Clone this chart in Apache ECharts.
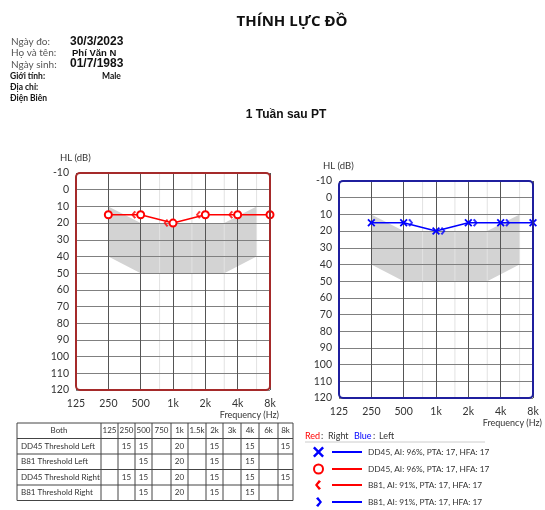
<!DOCTYPE html>
<html><head><meta charset="utf-8">
<script src="https://cdn.jsdelivr.net/npm/echarts@6/dist/echarts.min.js"></script>
<style>html,body{margin:0;padding:0;background:#fff}#c{width:545px;height:510px}</style>
</head><body><div id="c"></div>
<script>
// ---- data ----
const freqTickValues = [125, 250, 500, 1000, 2000, 4000, 8000];
const freqTickLabels = ['125', '250', '500', '1k', '2k', '4k', '8k'];
const minorFreqs = [750, 1500, 3000, 6000];
const normalFreqs = [250, 500, 3000, 6000];
const normalTop = [10, 20, 20, 10];
const normalBottom = [40, 50, 50, 40];
// Right ear (red) - DD45 "O" and B81 "<"
const rightDD45Freq = [250, 500, 1000, 2000, 4000, 8000];
const rightDD45Db = [15, 15, 20, 15, 15, 15];
const rightB81Freq = [500, 1000, 2000, 4000];
const rightB81Db = [15, 20, 15, 15];
// Left ear (blue) - DD45 "X" and B81 ">"
const leftDD45Freq = [250, 500, 1000, 2000, 4000, 8000];
const leftDD45Db = [15, 15, 20, 15, 15, 15];
const leftB81Freq = [500, 1000, 2000, 4000];
const leftB81Db = [15, 20, 15, 15];
// table
const tableHeader = ['Both', '125', '250', '500', '750', '1k', '1.5k', '2k', '3k', '4k', '6k', '8k'];
const tableRowNames = ['DD45 Threshold Left', 'B81 Threshold Left', 'DD45 Threshold Right', 'B81 Threshold Right'];
const tableRow1 = ['', '15', '15', '', '20', '', '15', '', '15', '', '15'];
const tableRow2 = ['', '', '15', '', '20', '', '15', '', '15', '', ''];
const tableRow3 = ['', '15', '15', '', '20', '', '15', '', '15', '', '15'];
const tableRow4 = ['', '', '15', '', '20', '', '15', '', '15', '', ''];
// legend
const legendTexts = ['DD45, AI: 96%, PTA: 17, HFA: 17', 'DD45, AI: 96%, PTA: 17, HFA: 17', 'B81, AI: 91%, PTA: 17, HFA: 17', 'B81, AI: 91%, PTA: 17, HFA: 17'];
// header
const headerLabels = ['Ngày đo:', 'Họ và tên:', 'Ngày sinh:'];
const headerValues = ['30/3/2023', 'Phí Văn N', '01/7/1983'];

// ---- helpers ----
const oct = f => Math.log2(f / 125);
const pair = (fs, ds) => fs.map((f, i) => [oct(f), ds[i]]);
const RED = '#ff0000', BLUE = '#0000ff';
const FONT = 'Lato';
const PTS_X = [[2.5,0],[8,5.5],[13.5,0],[16,2.5],[10.5,8],[16,13.5],[13.5,16],[8,10.5],[2.5,16],[0,13.5],[5.5,8],[0,2.5]];
const PTS_LT = [[6.5,0],[10,2.5],[4.5,8],[10,13.5],[6.5,16],[0,8]];
const PTS_GT = [[3.5,0],[10,8],[3.5,16],[0,13.5],[5.5,8],[0,2.5]];
const toPath = pts => 'path://M' + pts.map(p => p[0] + ',' + p[1]).join(' L') + ' Z';
const place = (pts, x, y, w, h) => {
  const mx = Math.max(...pts.map(p => p[0])), my = Math.max(...pts.map(p => p[1]));
  return pts.map(p => [x + p[0] / mx * w, y + p[1] / my * h]);
};

const grids = [
  {left: 76, top: 173, width: 194, height: 217, border: '#a52a2a'},
  {left: 339, top: 181, width: 194, height: 217, border: '#1f1f9e'}
];

function xAxisFor(i) {
  return {
    type: 'value', gridIndex: i, min: 0, max: 6, interval: 1, z: 3,
    axisLine: {show: false}, axisTick: {show: false},
    axisLabel: {formatter: v => freqTickLabels[Math.round(v)], fontSize: 10.5, color: '#333', margin: 8, fontFamily: FONT},
    splitLine: {show: true, lineStyle: {color: '#555', width: 1}}
  };
}
function yAxisFor(i) {
  return {
    type: 'value', gridIndex: i, min: -10, max: 120, interval: 10, inverse: true, z: 3,
    axisLine: {show: false}, axisTick: {show: false},
    axisLabel: {fontSize: 10.5, color: '#333', margin: 7, fontFamily: FONT},
    splitLine: {show: true, lineStyle: {color: '#808080', width: 1}}
  };
}
function bandSeries(i) {
  return {
    type: 'custom', xAxisIndex: i, yAxisIndex: i, z: 1, silent: true,
    data: [0],
    renderItem: (params, api) => {
      const pts = [];
      normalFreqs.forEach((f, k) => pts.push(api.coord([oct(f), normalTop[k]])));
      for (let k = normalFreqs.length - 1; k >= 0; k--) pts.push(api.coord([oct(normalFreqs[k]), normalBottom[k]]));
      return {type: 'polygon', shape: {points: pts}, style: {fill: '#d3d3d3'}};
    }
  };
}
function minorSeries(i) {
  return {
    type: 'custom', xAxisIndex: i, yAxisIndex: i, z: 2, silent: true,
    data: minorFreqs.map(f => [oct(f)]),
    renderItem: (params, api) => {
      const a = api.coord([api.value(0), -10]);
      const b = api.coord([api.value(0), 120]);
      return {type: 'line', shape: {x1: a[0], y1: a[1], x2: b[0], y2: b[1]}, style: {stroke: '#e2e2e2', lineWidth: 1}};
    }
  };
}

const graphics = [];
const T = (x, y, text, o) => graphics.push({type: 'text', x, y, style: Object.assign({text, fill: '#222', font: '11px ' + FONT, textVerticalAlign: 'middle'}, o || {})});

// title & header
T(292, 22, 'THÍNH LỰC ĐỒ', {font: 'bold 15px "Open Sans"', textAlign: 'center', fill: '#111'});
T(286, 115, '1 Tuần sau PT', {font: 'bold 12px "Liberation Sans"', textAlign: 'center', fill: '#111'});
headerLabels.forEach((t, k) => T(11, 42 + k * 11.2, t, {font: '10px ' + FONT, fill: '#555'}));
T(70, 42, headerValues[0], {font: 'bold 12px "Liberation Sans"', fill: '#111'});
T(72, 53, headerValues[1], {font: 'bold 9.5px "Liberation Sans"', fill: '#111'});
T(70, 64, headerValues[2], {font: 'bold 12px "Liberation Sans"', fill: '#111'});
T(10, 76, 'Giới tính:', {font: 'bold 8.5px ' + FONT, fill: '#111'});
T(102, 76, 'Male', {font: 'bold 8.5px ' + FONT, fill: '#111'});
T(10, 87, 'Địa chỉ:', {font: 'bold 8.5px ' + FONT, fill: '#111'});
T(10, 98, 'Điện Biên', {font: 'bold 8.5px ' + FONT, fill: '#111'});

// chart decorations
grids.forEach((g, i) => {
  graphics.push({type: 'rect', z: 10, shape: {x: g.left, y: g.top, width: g.width, height: g.height, r: 4}, style: {fill: 'none', stroke: g.border, lineWidth: 2}});
  T(g.left - 16, g.top - 15, 'HL (dB)', {font: '9.5px ' + FONT, fill: '#333'});
  T(g.left + g.width + 9, g.top + g.height + 25, 'Frequency (Hz)', {font: '9px ' + FONT, fill: '#333', textAlign: 'right'});
});

// table
const colX = [17, 101, 118, 135, 152, 171, 188, 206, 223, 241, 259, 278, 293];
const rowY = [423, 438.5, 454, 469.5, 485, 500.5];
const rowsData = [tableRow1, tableRow2, tableRow3, tableRow4];
graphics.push({type: 'rect', shape: {x: colX[0], y: rowY[0], width: colX[12] - colX[0], height: rowY[5] - rowY[0]}, style: {fill: 'none', stroke: '#444', lineWidth: 1}});
rowY.slice(1, 5).forEach(y => graphics.push({type: 'line', shape: {x1: colX[0], y1: y, x2: colX[12], y2: y}, style: {stroke: '#444', lineWidth: 1}}));
colX.slice(1, 12).forEach(x => graphics.push({type: 'line', shape: {x1: x, y1: rowY[0], x2: x, y2: rowY[5]}, style: {stroke: '#444', lineWidth: 1}}));
tableHeader.forEach((h, c) => T((colX[c] + colX[c + 1]) / 2, (rowY[0] + rowY[1]) / 2, h, {font: '8px ' + FONT, textAlign: 'center', fill: '#333'}));
tableRowNames.forEach((n, r) => {
  T(colX[0] + 4, (rowY[r + 1] + rowY[r + 2]) / 2, n, {font: '8px ' + FONT, fill: '#333'});
  rowsData[r].forEach((v, c) => { if (v) T((colX[c + 1] + colX[c + 2]) / 2, (rowY[r + 1] + rowY[r + 2]) / 2, v, {font: '8px ' + FONT, textAlign: 'center', fill: '#333'}); });
});

// legend
T(305, 436, 'Red', {font: '9px ' + FONT, fill: RED});
T(321, 436, ':', {font: '9px ' + FONT, fill: '#333'});
T(328, 436, 'Right', {font: '9px ' + FONT, fill: '#333'});
T(354, 436, 'Blue', {font: '9px ' + FONT, fill: BLUE});
T(373, 436, ':', {font: '9px ' + FONT, fill: '#333'});
T(379, 436, 'Left', {font: '9px ' + FONT, fill: '#333'});
graphics.push({type: 'line', shape: {x1: 305, y1: 442, x2: 485, y2: 442}, style: {stroke: '#ccc', lineWidth: 1}});
const legY = [452, 469, 485, 502];
const legColors = [BLUE, RED, RED, BLUE];
legY.forEach((y, k) => {
  graphics.push({type: 'line', shape: {x1: 332, y1: y, x2: 362, y2: y}, style: {stroke: legColors[k], lineWidth: 2}});
  T(368, y, legendTexts[k], {font: '8.3px ' + FONT, fill: '#333'});
});
graphics.push({type: 'polygon', shape: {points: place(PTS_X, 313, 446.5, 11, 11)}, style: {fill: BLUE}});
graphics.push({type: 'circle', shape: {cx: 318.5, cy: 469, r: 4.5}, style: {fill: '#fff', stroke: RED, lineWidth: 2}});
graphics.push({type: 'polygon', shape: {points: place(PTS_LT, 315, 480, 6, 10)}, style: {fill: RED}});
graphics.push({type: 'polygon', shape: {points: place(PTS_GT, 316, 497, 6, 10)}, style: {fill: BLUE}});

const option = {
  animation: false,
  textStyle: {fontFamily: FONT},
  grid: grids.map(g => ({left: g.left, top: g.top, width: g.width, height: g.height, show: false})),
  xAxis: [xAxisFor(0), xAxisFor(1)],
  yAxis: [yAxisFor(0), yAxisFor(1)],
  series: [
    bandSeries(0), minorSeries(0), bandSeries(1), minorSeries(1),
    {type: 'line', name: 'Right DD45', xAxisIndex: 0, yAxisIndex: 0, z: 5, data: pair(rightDD45Freq, rightDD45Db),
      symbol: 'emptyCircle', symbolSize: 7, itemStyle: {color: RED, borderWidth: 1.8}, lineStyle: {color: RED, width: 1.5}},
    {type: 'scatter', name: 'Right B81', xAxisIndex: 0, yAxisIndex: 0, z: 5, data: pair(rightB81Freq, rightB81Db),
      symbol: toPath(PTS_LT), symbolSize: [5, 8], symbolOffset: [-7, 0], itemStyle: {color: RED}},
    {type: 'line', name: 'Left DD45', xAxisIndex: 1, yAxisIndex: 1, z: 5, data: pair(leftDD45Freq, leftDD45Db),
      symbol: toPath(PTS_X), symbolSize: 8, showAllSymbol: true, itemStyle: {color: BLUE}, lineStyle: {color: BLUE, width: 1.5}},
    {type: 'scatter', name: 'Left B81', xAxisIndex: 1, yAxisIndex: 1, z: 5, data: pair(leftB81Freq, leftB81Db),
      symbol: toPath(PTS_GT), symbolSize: [5, 8], symbolOffset: [7, 0], itemStyle: {color: BLUE}}
  ],
  graphic: graphics
};
const chart = echarts.init(document.getElementById('c'), null, {renderer: 'canvas'});
chart.setOption(option);
</script></body></html>
